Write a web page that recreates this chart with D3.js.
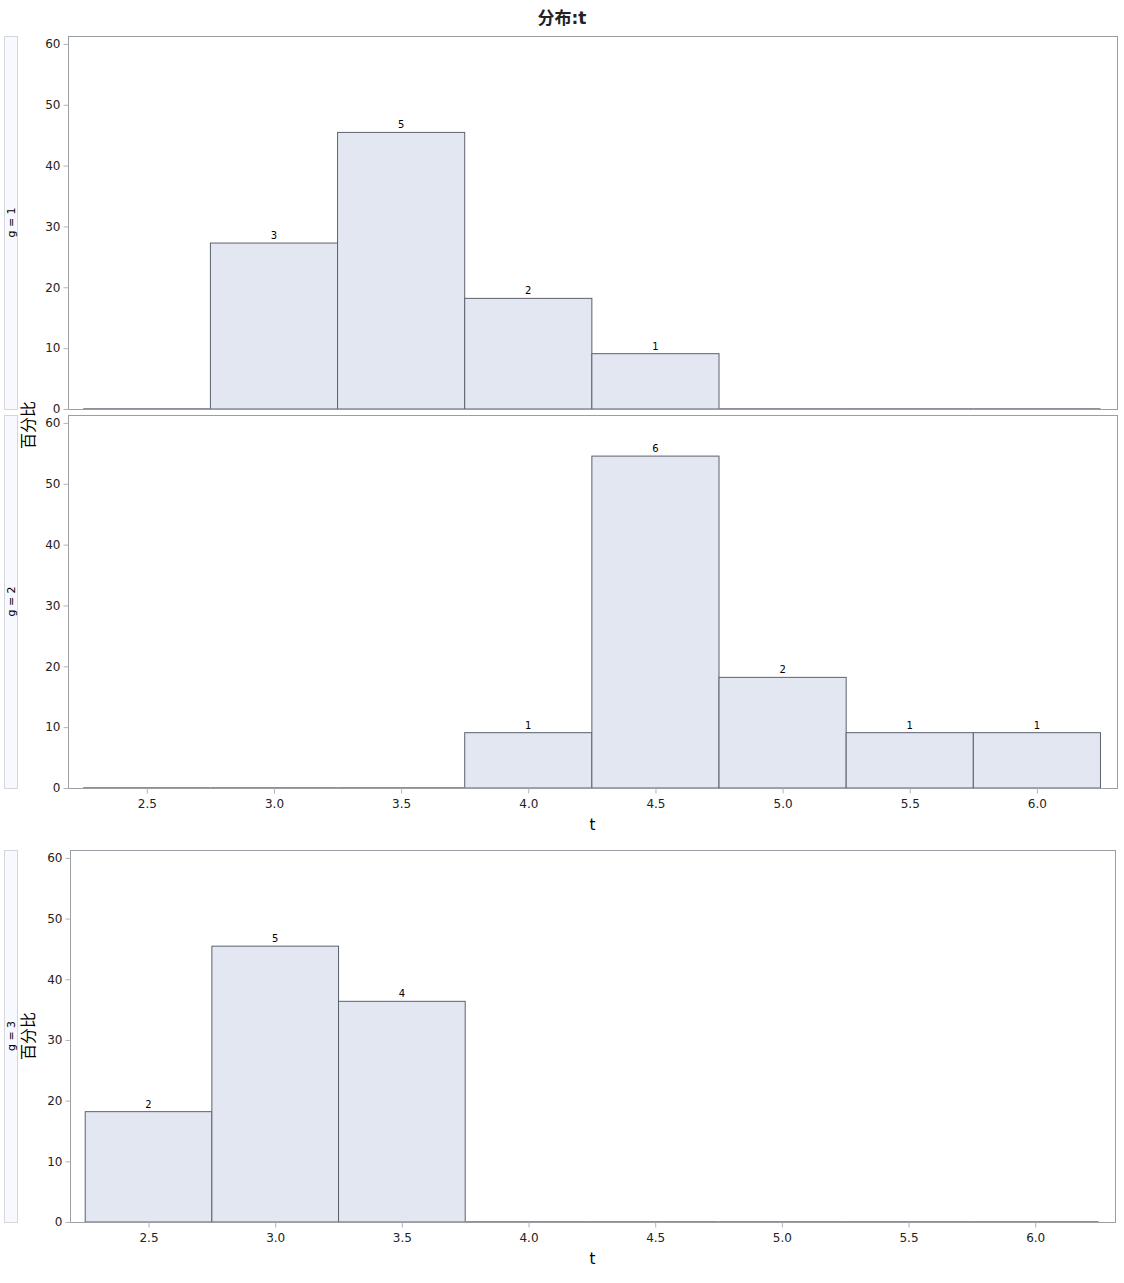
<!DOCTYPE html>
<html>
<head>
<meta charset="utf-8">
<script src="https://cdn.jsdelivr.net/npm/d3@7"></script>
<style>
body { margin: 0; background: #fff; }
text { font-family: "DejaVu Sans", "Noto Sans CJK SC", sans-serif; }
</style>
</head>
<body>
<script>
// bins (midpoints, width 0.5)
var binMids = [2.5, 3.0, 3.5, 4.0, 4.5, 5.0, 5.5, 6.0];
var countsG1 = [0, 3, 5, 2, 1, 0, 0, 0];
var countsG2 = [0, 0, 0, 1, 6, 2, 1, 1];
var countsG3 = [2, 5, 4, 0, 0, 0, 0, 0];
var groupLabels = ["g = 1", "g = 2", "g = 3"];
var xTicks = [2.5, 3.0, 3.5, 4.0, 4.5, 5.0, 5.5, 6.0];
var yTicks = [0, 10, 20, 30, 40, 50, 60];

var width = 1124, height = 1283,
	barFill = "#e3e7f1",
	barStroke = "#5c616c",
	frameColor = "#9a9fa6";

var svg = d3.select("body").append("svg")
	.attr("width", width)
	.attr("height", height);

svg.append("text")
	.attr("x", 562).attr("y", 24)
	.attr("text-anchor", "middle")
	.attr("font-size", 17).attr("font-weight", "bold")
	.attr("font-family", "Noto Sans CJK SC")
	.attr("fill", "#222")
	.text("分布:t");

// panel boxes
var panels = [
	{counts: countsG1, label: groupLabels[0], x0: 68, x1: 1117, y0: 36, y1: 409, xAxis: false},
	{counts: countsG2, label: groupLabels[1], x0: 68, x1: 1117, y0: 415, y1: 788, xAxis: true},
	{counts: countsG3, label: groupLabels[2], x0: 70, x1: 1115, y0: 850, y1: 1222, xAxis: true}
];

panels.forEach(function(p) {
	var total = d3.sum(p.counts);
	var data = binMids.map(function(m, i) {
		return {mid: m, n: p.counts[i], pct: 100 * p.counts[i] / total};
	});

	var x = d3.scaleLinear().domain([2.19, 6.315]).range([p.x0, p.x1]);
	var y = d3.scaleLinear().domain([0, 61.3]).range([p.y1, p.y0]);

	var g = svg.append("g");

	// strip on the left
	g.append("rect")
		.attr("x", 4.5).attr("y", p.y0 + 0.5)
		.attr("width", 13).attr("height", p.y1 - p.y0)
		.attr("fill", "#f8f9fe").attr("stroke", "#d3d6dc");
	g.append("text")
		.attr("transform", "translate(15," + ((p.y0 + p.y1) / 2) + ") rotate(-90)")
		.attr("text-anchor", "middle")
		.attr("font-size", 11)
		.text(p.label);

	// bars
	g.selectAll(".bar").data(data).enter()
		.append("rect")
		.attr("class", "bar")
		.attr("x", function(d) { return x(d.mid - 0.25); })
		.attr("width", function(d) { return x(d.mid + 0.25) - x(d.mid - 0.25); })
		.attr("y", function(d) { return y(d.pct); })
		.attr("height", function(d) { return y(0) - y(d.pct); })
		.attr("fill", barFill)
		.attr("stroke", function(d) { return d.n > 0 ? barStroke : "none"; });

	// zero bins still show a base line
	g.selectAll(".zero").data(data.filter(function(d) { return d.n === 0; })).enter()
		.append("line")
		.attr("x1", function(d) { return x(d.mid - 0.25); })
		.attr("x2", function(d) { return x(d.mid + 0.25); })
		.attr("y1", y(0) - 0.5).attr("y2", y(0) - 0.5)
		.attr("stroke", "#8a8f98");

	// count labels
	g.selectAll(".cnt").data(data.filter(function(d) { return d.n > 0; })).enter()
		.append("text")
		.attr("x", function(d) { return x(d.mid); })
		.attr("y", function(d) { return y(d.pct) - 4; })
		.attr("text-anchor", "middle")
		.attr("font-size", 10)
		.text(function(d) { return d.n; });

	// frame
	g.append("rect")
		.attr("x", p.x0 + 0.5).attr("y", p.y0 + 0.5)
		.attr("width", p.x1 - p.x0).attr("height", p.y1 - p.y0)
		.attr("fill", "none").attr("stroke", frameColor);

	// y axis
	var ya = g.append("g")
		.attr("transform", "translate(" + (p.x0 + 0.5) + ",0)")
		.call(d3.axisLeft(y).tickValues(yTicks).tickSize(5).tickPadding(3));
	ya.select(".domain").remove();
	ya.selectAll(".tick line").attr("stroke", "#b0b4ba");
	ya.selectAll(".tick text").attr("font-size", 12).attr("fill", "#222")
		.attr("font-family", "DejaVu Sans");

	if (p.xAxis) {
		var xa = g.append("g")
			.attr("transform", "translate(0," + (p.y1 + 0.5) + ")")
			.call(d3.axisBottom(x).tickValues(xTicks).tickFormat(d3.format(".1f")).tickSize(5).tickPadding(6));
		xa.select(".domain").remove();
		xa.selectAll(".tick line").attr("stroke", "#b0b4ba");
		xa.selectAll(".tick text").attr("font-size", 12).attr("fill", "#222")
			.attr("font-family", "DejaVu Sans");
		g.append("text")
			.attr("x", (p.x0 + p.x1) / 2).attr("y", p.y1 + 42)
			.attr("text-anchor", "middle")
			.attr("font-size", 15)
			.text("t");
	}
});

// shared y labels
[{y: 425}, {y: 1036}].forEach(function(l) {
	svg.append("text")
		.attr("transform", "translate(34," + l.y + ") rotate(-90)")
		.attr("text-anchor", "middle")
		.attr("font-size", 16)
		.attr("font-family", "Noto Sans CJK SC")
		.text("百分比");
});
</script>
</body>
</html>
